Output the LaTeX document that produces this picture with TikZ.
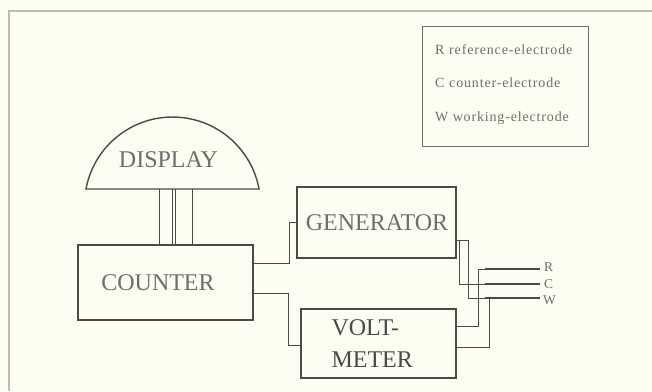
\documentclass[tikz,border=0pt]{standalone}
\usepackage{fontspec}
\setmainfont{Liberation Serif}
\usetikzlibrary{calc}
\definecolor{paper}{HTML}{FDFDF2}
\definecolor{ink}{HTML}{4A4A4A}
\definecolor{txt}{HTML}{6E6E6E}
\definecolor{frame}{HTML}{BDBDB6}
\tikzset{
  blockbox/.style={draw=ink, line width=1.6pt, rectangle, inner sep=0pt},
  bigtext/.style={text=txt, font=\fontsize{24}{26}\selectfont},
  wire/.style={draw=ink, line width=1pt},
  terminal/.style={draw=ink, line width=2.6pt},
  legtext/.style={text=txt, anchor=west, inner sep=0pt, font=\fontsize{14}{16}\selectfont\addfontfeatures{LetterSpace=6}},
  termlabel/.style={text=txt, anchor=west, inner sep=0pt, font=\fontsize{13.5}{13.5}\selectfont}
}
\begin{document}
\begin{tikzpicture}[x=1pt,y=-1pt]
\useasboundingbox (0,0) rectangle (652,391);
\fill[paper] (0,0) rectangle (652,391);
% outer frame (top and left edges)
\draw[frame, line width=1.4pt] (9,391) -- (9,11) -- (652,11);

% legend
\node[draw=ink!80, line width=1pt, minimum width=166pt, minimum height=120pt] (legend) at (505,86) {};
\node[legtext] (legR) at (435,50) {R\,\,reference-electrode};
\node[legtext] (legC) at (435,83) {C\,\,counter-electrode};
\node[legtext] (legW) at (435,118) {W working-electrode};

% display dome
\draw[ink, line width=1.4pt] (86,189) arc[start angle=190.5, end angle=349.5, radius=88] -- cycle;
\node[bigtext] (display) at (168.5,160) {DISPLAY};
\coordinate (d1) at (159,189);
\coordinate (d2) at (172,189);
\coordinate (d3) at (175,189);
\coordinate (d4) at (192,189);

% blocks
\node[blockbox, minimum width=175pt, minimum height=75pt] (counter) at (165.5,282.5) {};
\node[bigtext] (countertext) at (158,283) {COUNTER};
\node[blockbox, minimum width=159pt, minimum height=71pt] (generator) at (376.5,222.5) {};
\node[bigtext] (generatortext) at (377,223) {GENERATOR};
\node[blockbox, minimum width=155pt, minimum height=69pt] (voltmeter) at (378.5,343.5) {};
\node[bigtext, text=ink, align=left, anchor=west, font=\fontsize{24}{32}\selectfont] (voltmetertext) at (328,344) {VOLT-\\METER};

% display wires
\draw[wire, line width=0.8pt] (d1) -- (d1 |- counter.north);
\draw[wire, line width=0.8pt] (d2) -- (d2 |- counter.north);
\draw[wire, line width=0.8pt] (d3) -- (d3 |- counter.north);
\draw[wire, line width=0.8pt] (d4) -- (d4 |- counter.north);

% counter connections
\draw[wire] ([yshift=19.5pt]counter.east) -- ++(36,0) |- (generator.west);
\draw[wire] ([yshift=-10.5pt]counter.east) -- ++(35,0) |- ([yshift=-1.5pt]voltmeter.west);

% electrode terminals
\coordinate (Rs) at (485,269); \coordinate (Re) at (540,269);
\coordinate (Cs) at (485,284); \coordinate (Ce) at (540,284);
\coordinate (Ws) at (485,298); \coordinate (We) at (540,298);
\draw[terminal] (Rs) -- (Re);
\draw[terminal] (Cs) -- (Ce);
\draw[terminal] (Ws) -- (We);
\node[termlabel] (labR) at (544,267) {R};
\node[termlabel] (labC) at (544,284) {C};
\node[termlabel] (labW) at (543,300) {W};

% generator to C and W
\draw[wire] ([yshift=-17.5pt]generator.east) -- ++(12,0) |- (Ws);
\draw[wire] ([yshift=-17.5pt]generator.east) ++(3,0) |- (Cs);
% voltmeter to R and W
\draw[wire] ([yshift=17.5pt]voltmeter.east) -- ++(22,0) |- (Rs);
\draw[wire] ([yshift=-3.5pt]voltmeter.east) -- ++(33,0) |- (Ws);
\end{tikzpicture}
\end{document}
